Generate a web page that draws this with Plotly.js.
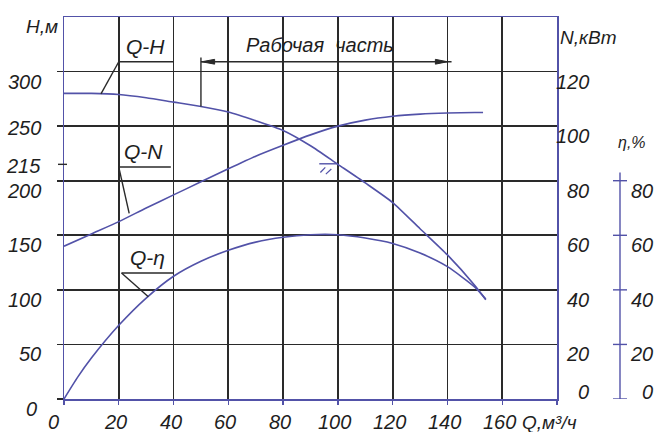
<!DOCTYPE html>
<html><head><meta charset="utf-8">
<script src="https://cdn.plot.ly/plotly-3.0.1.min.js"></script>
<style>html,body{margin:0;padding:0;background:#fff}#chart{width:659px;height:432px}</style>
</head><body><div id="chart"></div>
<script>
// ---- data ----
const qHead  = [0,10,20,30,40,50,60,70,80,90,100,110,120,130,140,150,154];
const headH  = [280,280,279,276,272,268,263,255,246,232,215,198,180,156,132,104,91];
const qPower = [0,10,20,30,40,50,60,70,80,90,100,110,120,130,140,150,153];
const powerN = [56,60.5,65,70,74.8,79.6,84.4,89,93,96.8,100,102.2,103.6,104.4,104.8,105,105];
const qEff   = [0,5,10,20,30,40,50,60,70,80,90,100,110,120,130,140,150,154];
const effEta = [0,8,15,27,37,45,50.5,54.5,57.5,59.3,60.2,60.2,59,57,53.5,48.5,41,36.6];
const xTicks   = [0,20,40,60,80,100,120,140,160];
const hTicks   = [0,50,100,150,200,215,250,300];
const nTicks   = [0,20,40,60,80,100,120];
const etaTicks = [0,20,40,60,80];
const workRange = [50,140];
const dutyQ = 100, dutyH = 215;

// ---- styles ----
const BLUE = '#5252a8';
const GRID = '#2a2a2a';
const TXT = '#1e1e1e';
const FONT = "'Liberation Sans','Arial',sans-serif";
const L = 64, R = 557, T = 17, B = 399;
const W = R - L;
const px = p => (p - L) / W;           // pixel x -> paper x
const f = (s) => ({family: FONT, size: s, color: TXT, style: 'italic'});

const curve = {color: BLUE, width: 1.6, shape: 'spline', smoothing: 0.6};
const traces = [
  {x: qHead, y: headH, mode: 'lines', line: curve, yaxis: 'y', hoverinfo: 'skip'},
  {x: qPower, y: powerN, mode: 'lines', line: curve, yaxis: 'y2', hoverinfo: 'skip'},
  {x: qEff, y: effEta, mode: 'lines', line: curve, yaxis: 'y2', hoverinfo: 'skip'}
];

const ann = [];
const TS = 20;
// left H labels
const centeredH = [215, 250];
hTicks.forEach(v => ann.push({
  xref: 'paper', x: px(v === 0 ? 39 : 43), xanchor: 'right',
  yref: 'y', y: v, yanchor: 'middle', yshift: centeredH.includes(v) ? -2 : -10,
  text: String(v), showarrow: false, font: f(TS)
}));
// right N labels
nTicks.forEach(v => ann.push({
  xref: 'paper', x: px(591), xanchor: 'right',
  yref: 'y2', y: v, yanchor: 'middle', yshift: v === 0 ? 7 : -10,
  text: String(v), showarrow: false, font: f(TS)
}));
// eta labels
etaTicks.forEach(v => ann.push({
  xref: 'paper', x: px(655), xanchor: 'right',
  yref: 'y2', y: v, yanchor: 'middle', yshift: v === 0 ? 7 : -10,
  text: String(v), showarrow: false, font: f(TS)
}));
// x labels
xTicks.forEach(v => ann.push({
  xref: 'x', x: v, xanchor: 'center', xshift: v === 0 ? -11 : -3,
  yref: 'paper', y: 0, yanchor: 'middle', yshift: -23,
  text: String(v), showarrow: false, font: f(TS)
}));
// axis titles
ann.push({xref:'paper', x: px(520), xanchor:'left', yref:'paper', y:0, yanchor:'middle', yshift:-23,
  text:'Q,м³/ч', showarrow:false, font:f(19)});
ann.push({xref:'paper', x: px(42), xanchor:'center', yref:'paper', y:1, yanchor:'middle', yshift:-9,
  text:'H,м', showarrow:false, font:f(19)});
ann.push({xref:'paper', x: px(588), xanchor:'center', yref:'paper', y:1, yanchor:'middle', yshift:-20,
  text:'N,кВт', showarrow:false, font:f(19)});
ann.push({xref:'paper', x: px(632), xanchor:'center', yref:'y2', y:94, yanchor:'middle',
  text:'η,%', showarrow:false, font:f(16)});
// curve labels
ann.push({xref:'x', x:29.6, yref:'y', y:323, text:'Q-H', showarrow:false, font:f(21)});
ann.push({xref:'x', x:29.2, yref:'y', y:227, text:'Q-N', showarrow:false, font:f(21)});
ann.push({xref:'x', x:30.5, yref:'y', y:130, text:'Q-η', showarrow:false, font:f(21)});
ann.push({xref:'x', x:93.6, yref:'y', y:324, text:'Рабочая  часть', showarrow:false, font:f(20)});

const ln = (x0,y0,x1,y1,extra) => Object.assign({type:'line', xref:'x', yref:'y', x0, y0, x1, y1,
  line:{color:GRID, width:1.4}}, extra || {});
const arrowY = 309;
const shapes = [
  // Q-H leader
  ln(20,309,40,309), ln(20,309,13.5,279.5),
  // Q-N leader
  ln(20,212.5,39,212.5), ln(20,212.5,23.8,170),
  // Q-eta leader
  ln(21,115.5,40,115.5), ln(21,115.5,30.8,93.6),
  // working range: line, left vertical, arrow heads
  ln(workRange[0],arrowY,workRange[1]+1.5,arrowY),
  ln(workRange[0],313,workRange[0],268),
  {type:'path', xref:'x', yref:'y', fillcolor:GRID, line:{color:GRID,width:1},
    path:`M ${workRange[0]+0.3} ${arrowY} L ${workRange[0]+5} ${arrowY+2.2} L ${workRange[0]+5} ${arrowY-2.2} Z`},
  {type:'path', xref:'x', yref:'y', fillcolor:GRID, line:{color:GRID,width:1},
    path:`M ${workRange[1]} ${arrowY} L ${workRange[1]-4.4} ${arrowY+2.2} L ${workRange[1]-4.4} ${arrowY-2.2} Z`},
  // duty point marker
  ln(dutyQ-6.8,dutyH+0.5,dutyQ,dutyH+0.5, {line:{color:BLUE,width:1.4}}),
  ln(dutyQ-6.4,dutyH-7.5,dutyQ-4.6,dutyH-2.8, {line:{color:BLUE,width:1.2}}),
  ln(dutyQ-4.4,dutyH-9,dutyQ-2.4,dutyH-4.3, {line:{color:BLUE,width:1.2}}),
  // 215 tick
  {type:'line', xref:'paper', yref:'y', x0:px(58), x1:px(67), y0:215, y1:215, line:{color:GRID,width:1.4}},
  // eta axis
  {type:'line', xref:'paper', yref:'y2', x0:px(620), x1:px(620), y0:0, y1:83, line:{color:BLUE,width:1.4}}
];
etaTicks.forEach(v => shapes.push({type:'line', xref:'paper', yref:'y2', x0:px(613), x1:px(627), y0:v, y1:v,
  line:{color:BLUE,width:1.4}}));

const layout = {
  width: 659, height: 432,
  margin: {l: L, r: 659 - R, t: T, b: 432 - B, pad: 0},
  paper_bgcolor: '#fff', plot_bgcolor: '#fff',
  showlegend: false,
  font: {family: FONT, color: TXT},
  xaxis: {range: [0, 180], tickvals: [0,20,40,60,80,100,120,140,160,180], showticklabels: false,
    showgrid: true, gridcolor: GRID, gridwidth: 1.8, zeroline: false,
    showline: true, linecolor: BLUE, linewidth: 1.5, mirror: true,
    ticks: 'outside', ticklen: 4, tickcolor: BLUE, tickwidth: 1.3, fixedrange: true},
  yaxis: {range: [0, 350], tickvals: [0,50,100,150,200,250,300], showticklabels: false,
    showgrid: true, gridcolor: GRID, gridwidth: 1.8, zeroline: false,
    showline: true, linecolor: BLUE, linewidth: 1.5, mirror: true,
    ticks: 'outside', ticklen: 6, tickcolor: GRID, tickwidth: 1.6, fixedrange: true},
  yaxis2: {range: [0, 140], overlaying: 'y', side: 'right', showgrid: false, zeroline: false,
    showticklabels: false, showline: false, ticks: '', fixedrange: true},
  annotations: ann,
  shapes: shapes
};
Plotly.newPlot('chart', traces, layout, {staticPlot: true, displayModeBar: false});
</script>
</body></html>
